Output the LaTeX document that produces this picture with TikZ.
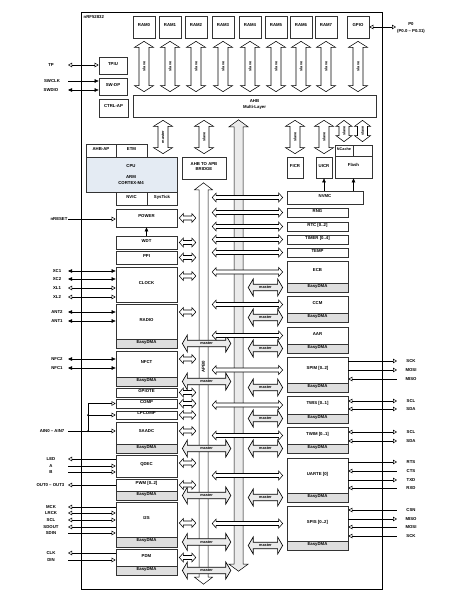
\documentclass[tikz,border=0pt]{standalone}
\usepackage{fontspec}
\setmainfont{Liberation Sans}
\usetikzlibrary{arrows.meta,fit,calc}
\newcommand\lbl{\fontsize{4.3}{5.4}\selectfont\bfseries}
\newcommand\lbls{\fontsize{3.8}{4.5}\selectfont\bfseries}
\definecolor{cpublue}{HTML}{E4EBF3}
\tikzset{
 ot/.tip={Triangle[open,length=4pt,width=4.5pt]},
 ft/.tip={Triangle[length=4pt,width=3.5pt]},
 blk/.style={draw=black!80,line width=0.7pt,fill=white,inner sep=0pt,font=\lbl,align=center},
 dmab/.style={blk,fill=black!13},
 cpub/.style={blk,fill=cpublue},
 slv/.style={draw=black,line width=0.55pt,fill=white},
 mst/.style={draw=black,line width=0.65pt,fill=black!8},
 bus/.style={draw=black,line width=0.5pt,fill=white},
 busg/.style={draw=black,line width=0.5pt,fill=black!8},
 sig/.style={line width=0.5pt},
 sl/.style={font=\lbl,inner sep=0.5pt},
}
% box from corners
\newcommand\bx[7][blk]{\node[#1,fit={(#3,#4)(#5,#6)}] (#2) {#7};}
% horizontal double arrow: style, left pt, right pt, y pt, head half, shaft half, head length
\newcommand\harr[7]{\draw[#1] let \p1=#2,\p2=#3,\p3=#4 in
 (\x1,\y3) -- (\x1+#7,\y3+#5) -- (\x1+#7,\y3+#6) -- (\x2-#7,\y3+#6) -- (\x2-#7,\y3+#5) -- (\x2,\y3)
 -- (\x2-#7,\y3-#5) -- (\x2-#7,\y3-#6) -- (\x1+#7,\y3-#6) -- (\x1+#7,\y3-#5) -- cycle;}
\newcommand\hlab[3]{\path let \p1=#1,\p2=#2,\p3=#3 in ({(\x1+\x2)/2},\y3) node[font=\lbls,inner sep=0pt] {master};}
\newcommand\lslv[2]{\harr{slv}{([xshift=2pt]#1.east)}{([xshift=-3pt]apb.west)}{(0,#2)}{4.5pt}{2pt}{4pt}}
\newcommand\rslv[1]{\harr{slv}{([xshift=4pt]apb.east)}{([xshift=-4pt]#1.west)}{(#1)}{4.5pt}{2pt}{4pt}}
\newcommand\lmst[1]{\harr{mst}{([xshift=5pt]#1.east)}{([xshift=-3pt]ahbbus.west)}{(#1)}{8.5pt}{3.3pt}{5pt}
 \hlab{([xshift=5pt]#1.east)}{([xshift=-3pt]ahbbus.west)}{(#1)}}
\newcommand\rmst[1]{\harr{mst}{([xshift=5pt]ahbbus.east)}{([xshift=-4pt]#1.west)}{(#1)}{8.5pt}{3.3pt}{5pt}
 \hlab{([xshift=5pt]ahbbus.east)}{([xshift=-4pt]#1.west)}{(#1)}}
% vertical double arrow: [head half] x point, top point, bottom point, label
\newcommand\varr[5][9.5pt]{\draw[slv] let \p1=#2,\p2=#3,\p3=#4 in
 (\x1,\y2-3pt) -- (\x1+#1,\y2-9pt) -- (\x1+5pt,\y2-9pt) -- (\x1+5pt,\y3+9pt) -- (\x1+#1,\y3+9pt) -- (\x1,\y3+3pt)
 -- (\x1-#1,\y3+9pt) -- (\x1-5pt,\y3+9pt) -- (\x1-5pt,\y2-9pt) -- (\x1-#1,\y2-9pt) -- cycle
 (\x1,{(\y2+\y3)/2}) node[rotate=90,font=\lbls,inner sep=0pt] {#5};}
% signals
\newcommand\lsig[5]{\node[sl] (ll#4) at (#3,#4) {#2}; \coordinate (ls#4) at (68,#4);
 \draw[sig,#1] (ls#4) -- (ls#4 -| #5.west);}
\newcommand\rsig[4]{\node[sl] (rl#3) at (411,#3) {#2}; \coordinate (rs#3) at (397,#3);
 \draw[sig,#1] (rs#3 -| #4.east) -- (rs#3);}
\begin{document}
\begin{tikzpicture}[x=1pt,y=-1pt]
\useasboundingbox (0,0) rectangle (456,604);
\node[draw=black,line width=0.8pt,inner sep=0pt,fit={(81,12)(382,589)}] (chip) {};
\node[sl,anchor=west] (chipname) at (83,17) {nRF52832};
% bus anchors
\node[inner sep=0pt,fit={(199,183)(208,584)}] (apb) {};
\node[inner sep=0pt,fit={(234,120)(243,571)}] (ahbbus) {};
% top
\bx{ram0}{133}{16}{155}{38}{RAM0}
\bx{ram1}{159}{16}{181}{38}{RAM1}
\bx{ram2}{185}{16}{207}{38}{RAM2}
\bx{ram3}{212}{16}{234}{38}{RAM3}
\bx{ram4}{239}{16}{261}{38}{RAM4}
\bx{ram5}{265}{16}{287}{38}{RAM5}
\bx{ram6}{290}{16}{312}{38}{RAM6}
\bx{ram7}{315}{16}{337}{38}{RAM7}
\bx{gpio}{347}{16}{369}{38}{GPIO}
\bx{ahb}{133}{95}{376}{117}{AHB\\Multi-Layer}
\bx{tpiu}{99}{57}{127}{74}{TPIU}
\bx{swdp}{99}{78}{127}{95}{SW-DP}
\bx{ctrlap}{99}{99}{128}{117}{CTRL-AP}
% cpu
\bx{ahbap}{86}{144}{116}{157}{AHB-AP}
\bx{etm}{116}{144}{147}{157}{ETM}
\bx[cpub]{cpu}{86}{157}{177}{192}{}
\node[sl] (cputxt) at (131,166) {CPU};
\node[sl,align=center] (armtxt) at (131,180) {ARM\\CORTEX-M4};
\bx{nvic}{116}{192}{147}{205}{NVIC}
\bx{systick}{147}{192}{177}{205}{SysTick}
\bx{bridge}{182}{157}{226}{179}{AHB TO APB\\BRIDGE}
\coordinate (cpum) at (163,157);
% left column
\bx{power}{116}{209}{177}{227}{POWER}
\bx{wdt}{116}{236}{177}{249}{WDT}
\bx{ppi}{116}{251}{177}{264}{PPI}
\bx{clock}{116}{267}{177}{302}{CLOCK}
\bx{radio}{116}{304}{177}{339}{RADIO}
\bx[dmab]{radiodma}{116}{339}{177}{348}{EasyDMA}
\bx{nfct}{116}{351}{177}{377}{NFCT}
\bx[dmab]{nfctdma}{116}{377}{177}{386}{EasyDMA}
\bx{gpiote}{116}{388}{177}{397}{GPIOTE}
\bx{comp}{116}{399}{177}{408}{COMP}
\bx{lpcomp}{116}{411}{177}{419}{LPCOMP}
\bx{saadc}{116}{422}{177}{444}{SAADC}
\bx[dmab]{saadcdma}{116}{444}{177}{453}{EasyDMA}
\bx{qdec}{116}{455}{177}{477}{QDEC}
\bx{pwm}{116}{479}{177}{491}{PWM [0..2]}
\bx[dmab]{pwmdma}{116}{491}{177}{500}{EasyDMA}
\bx{i2s}{116}{502}{177}{537}{I2S}
\bx[dmab]{i2sdma}{116}{537}{177}{547}{EasyDMA}
\bx{pdm}{116}{549}{177}{566}{PDM}
\bx[dmab]{pdmdma}{116}{566}{177}{575}{EasyDMA}
% right column
\bx{ficr}{287}{157}{303}{178}{FICR}
\bx{uicr}{316}{157}{332}{178}{UICR}
\node[blk,font=\lbls,fit={(335,145)(353,156)}] (ncache) {NCache};
\bx{fblank}{353}{145}{372}{156}{}
\bx{flash}{335}{156}{372}{178}{Flash}
\bx{nvmc}{287}{191}{363}{204}{NVMC}
\bx{rng}{287}{208}{348}{217}{RNG}
\bx{rtc}{287}{222}{348}{231}{RTC [0..2]}
\bx{timer}{287}{235}{348}{244}{TIMER [0..4]}
\bx{temp}{287}{248}{348}{257}{TEMP}
\bx{ecb}{287}{261}{348}{283}{ECB}
\bx[dmab]{ecbdma}{287}{283}{348}{292}{EasyDMA}
\bx{ccm}{287}{296}{348}{313}{CCM}
\bx[dmab]{ccmdma}{287}{313}{348}{322}{EasyDMA}
\bx{aar}{287}{327}{348}{344}{AAR}
\bx[dmab]{aardma}{287}{344}{348}{353}{EasyDMA}
\bx{spim}{287}{357}{348}{383}{SPIM [0..2]}
\bx[dmab]{spimdma}{287}{383}{348}{392}{EasyDMA}
\bx{twis}{287}{396}{348}{414}{TWIS [0..1]}
\bx[dmab]{twisdma}{287}{414}{348}{423}{EasyDMA}
\bx{twim}{287}{427}{348}{444}{TWIM [0..1]}
\bx[dmab]{twimdma}{287}{444}{348}{453}{EasyDMA}
\bx{uarte}{287}{458}{348}{493}{UARTE [0]}
\bx[dmab]{uartedma}{287}{493}{348}{502}{EasyDMA}
\bx{spis}{287}{506}{348}{541}{SPIS [0..2]}
\bx[dmab]{spisdma}{287}{541}{348}{550}{EasyDMA}
% buses
\draw[bus] let \p1=(apb.north),\p2=(apb.south) in
 (\x1,\y1) -- (\x1+9pt,\y1-7pt) -- (\x1+4.5pt,\y1-7pt) -- (\x1+4.5pt,\y2+7pt) -- (\x1+9pt,\y2+7pt) -- (\x1,\y2)
 -- (\x1-9pt,\y2+7pt) -- (\x1-4.5pt,\y2+7pt) -- (\x1-4.5pt,\y1-7pt) -- (\x1-9pt,\y1-7pt) -- cycle;
\node[sl,rotate=90] (apblbl) at (203.5,367) {APB0};
\draw[busg] let \p1=(ahbbus.north),\p2=(ahbbus.south) in
 (\x1,\y1) -- (\x1+9.5pt,\y1-7pt) -- (\x1+4.5pt,\y1-7pt) -- (\x1+4.5pt,\y2+7pt) -- (\x1+9.5pt,\y2+7pt) -- (\x1,\y2)
 -- (\x1-9.5pt,\y2+7pt) -- (\x1-4.5pt,\y2+7pt) -- (\x1-4.5pt,\y1-7pt) -- (\x1-9.5pt,\y1-7pt) -- cycle;
% vertical AHB connections
\foreach \r in {ram0,ram1,ram2,ram3,ram4,ram5,ram6,ram7,gpio}{\varr{(\r)}{(\r.south)}{(ahb.north)}{slave}}
\varr{(cpum)}{(ahb.south)}{(cpu.north)}{master}
\varr{(bridge)}{(ahb.south)}{(bridge.north)}{slave}
\varr{(ficr)}{(ahb.south)}{(ficr.north)}{slave}
\varr{(uicr)}{(ahb.south)}{(uicr.north)}{slave}
\varr[8pt]{(ncache)}{(ahb.south)}{(ncache.north)}{slave}
\varr[8pt]{(fblank)}{(ahb.south)}{(fblank.north)}{slave}
% master arrows left
\foreach \m in {radiodma,nfctdma,saadcdma,pwmdma,i2sdma,pdmdma}{\lmst{\m}}
% slave arrows right
\foreach \s in {nvmc,rng,rtc,timer,temp,ecb,ccm,aar,spim,twis,twim,uarte,spis}{\rslv{\s}}
% master arrows right
\foreach \m in {ecbdma,ccmdma,aardma,spimdma,twisdma,twimdma,uartedma,spisdma}{\rmst{\m}}
% slave arrows left
\lslv{power}{218}\lslv{wdt}{242.5}\lslv{ppi}{257.5}\lslv{clock}{276}\lslv{radio}{312}
\lslv{nfct}{359}\lslv{gpiote}{392.5}\lslv{comp}{403.5}\lslv{lpcomp}{415}\lslv{saadc}{431}
\lslv{qdec}{463}\lslv{pwm}{485}\lslv{i2s}{523}\lslv{pdm}{557.5}
% internal arrows
\draw[sig,-ft] (wdt.north) -- (power.south);
\draw[sig,-ft] (nvmc.north -| uicr.south) -- (uicr.south);
\draw[sig,-ft] (nvmc.north -| flash.south) -- (flash.south);
% left signals
\lsig{ot-ot}{TP}{51}{65}{tpiu}
\lsig{-ft}{SWCLK}{52}{81}{swdp}
\lsig{ft-ft}{SWDIO}{51}{90}{swdp}
\lsig{-ot}{nRESET}{59}{219}{power}
\lsig{ft-ft}{XC1}{57}{271}{clock}
\lsig{ft-ft}{XC2}{57}{279}{clock}
\lsig{ot-ot}{XL1}{57}{288}{clock}
\lsig{ot-ot}{XL2}{57}{297}{clock}
\lsig{ft-ft}{ANT2}{57}{312}{radio}
\lsig{ft-ft}{ANT1}{57}{321}{radio}
\lsig{ft-ft}{NFC2}{57}{359}{nfct}
\lsig{ft-ft}{NFC1}{57}{368}{nfct}
\node[sl,anchor=east] (ainl) at (65,431) {AIN0 – AIN7};
\coordinate (ains) at (68,431);
\coordinate (jn) at (88,431);
\draw[sig,-ot] (ains) -- (ains -| saadc.west);
\draw[sig,-ot] (jn) |- (comp.west);
\draw[sig,-ot] (jn |- lpcomp.west) -- (lpcomp.west);
\fill (jn) circle (1pt);
\fill (jn |- lpcomp.west) circle (1pt);
\lsig{ot-}{LED}{51}{459}{qdec}
\lsig{-ot}{A}{51}{466}{qdec}
\lsig{-ot}{B}{51}{472}{qdec}
\node[sl,anchor=east] (outl) at (65,485) {OUT0 – OUT3};
\coordinate (outs) at (68,485);
\draw[sig,ot-] (outs) -- (outs -| pwm.west);
\lsig{ot-}{MCK}{51}{507}{i2s}
\lsig{ot-ot}{LRCK}{51}{513}{i2s}
\lsig{ot-ot}{SCL}{51}{520}{i2s}
\lsig{ot-}{SDOUT}{51}{527}{i2s}
\lsig{-ot}{SDIN}{51}{533}{i2s}
\lsig{ot-}{CLK}{51}{553}{pdm}
\lsig{-ot}{DIN}{51}{560}{pdm}
% right signals
\node[sl] (p0a) at (411,24) {P0};
\node[sl] (p0b) at (411,31) {(P0.0 – P0.31)};
\coordinate (p0s) at (396,27);
\draw[sig,ot-ot] (p0s -| gpio.east) -- (p0s);
\rsig{-ot}{SCK}{361}{spim}
\rsig{-ot}{MOSI}{370}{spim}
\rsig{ot-}{MISO}{379}{spim}
\rsig{ot-ot}{SCL}{401}{twis}
\rsig{ot-ot}{SDA}{409}{twis}
\rsig{ot-ot}{SCL}{432}{twim}
\rsig{ot-ot}{SDA}{441}{twim}
\rsig{-ot}{RTS}{462}{uarte}
\rsig{ot-}{CTS}{471}{uarte}
\rsig{-ot}{TXD}{480}{uarte}
\rsig{ot-}{RXD}{488}{uarte}
\rsig{ot-}{CSN}{510}{spis}
\rsig{-ot}{MISO}{519}{spis}
\rsig{ot-}{MOSI}{527}{spis}
\rsig{ot-}{SCK}{536}{spis}
\end{tikzpicture}
\end{document}
